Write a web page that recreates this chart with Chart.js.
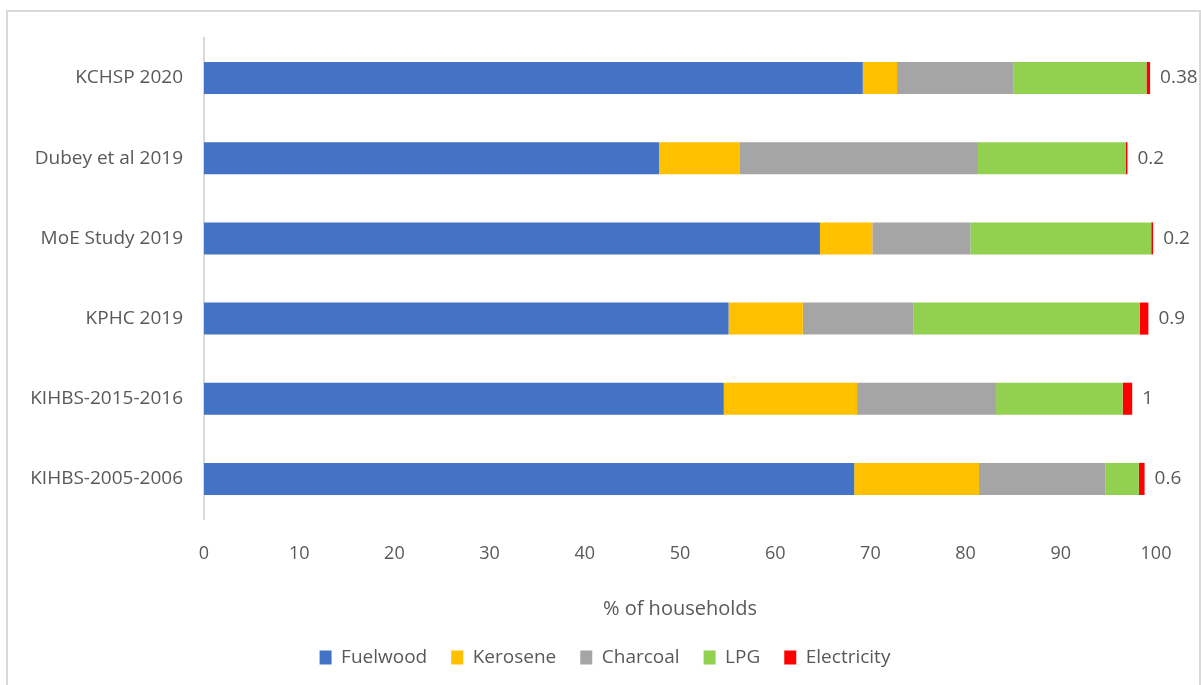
<!DOCTYPE html>
<html>
<head>
<meta charset="utf-8">
<script src="https://cdn.jsdelivr.net/npm/chart.js@4.4.1/dist/chart.umd.min.js"></script>
<style>
  html, body { margin: 0; padding: 0; background: #ffffff; }
  #wrap { width: 1201px; height: 685px; position: relative; }
</style>
</head>
<body>
<div id="wrap"><canvas id="c" width="1201" height="685"></canvas></div>
<script>
const categories = ["KCHSP 2020", "Dubey et al 2019", "MoE Study 2019", "KPHC 2019", "KIHBS-2015-2016", "KIHBS-2005-2006"];
const fuelwood    = [69.2, 47.8, 64.7, 55.1, 54.6, 68.3];
const kerosene    = [3.6, 8.5, 5.5, 7.8, 14.0, 13.1];
const charcoal    = [12.2, 25.0, 10.3, 11.6, 14.6, 13.3];
const lpg         = [14.0, 15.5, 19.0, 23.8, 13.3, 3.5];
const electricity = [0.38, 0.2, 0.2, 0.9, 1, 0.6];
const xTicks = [0, 10, 20, 30, 40, 50, 60, 70, 80, 90, 100];

const FONT = "'Open Sans', 'Noto Sans', sans-serif";
const TXT = '#595959';

const framePlugin = {
  id: 'frame',
  beforeDraw(chart) {
    const ctx = chart.ctx;
    ctx.save();
    ctx.fillStyle = '#ffffff';
    ctx.fillRect(0, 0, chart.width, chart.height);
    ctx.strokeStyle = '#d9d9d9';
    ctx.lineWidth = 2;
    ctx.strokeRect(7, 11, 1193, 700);
    ctx.restore();
  }
};

// shift the legend so it centres under the original layout
const legendShift = {
  id: 'legendShift',
  afterLayout(chart) {
    if (chart.legend) { chart.legend.left += 54; }
  }
};

const endLabels = {
  id: 'endLabels',
  afterDatasetsDraw(chart) {
    const idx = chart.data.datasets.length - 1;
    const meta = chart.getDatasetMeta(idx);
    const ds = chart.data.datasets[idx];
    const ctx = chart.ctx;
    ctx.save();
    ctx.font = "19px " + FONT;
    ctx.fillStyle = TXT;
    ctx.textAlign = 'left';
    ctx.textBaseline = 'middle';
    meta.data.forEach((el, i) => {
      ctx.fillText(String(ds.data[i]), el.x + 10, el.y);
    });
    ctx.restore();
  }
};

new Chart(document.getElementById('c'), {
  type: 'bar',
  data: {
    labels: categories,
    datasets: [
      { label: 'Fuelwood', data: fuelwood, backgroundColor: '#4472C4' },
      { label: 'Kerosene', data: kerosene, backgroundColor: '#FFC000' },
      { label: 'Charcoal', data: charcoal, backgroundColor: '#A5A5A5' },
      { label: 'LPG', data: lpg, backgroundColor: '#92D050' },
      { label: 'Electricity', data: electricity, backgroundColor: '#FF0000' }
    ]
  },
  options: {
    indexAxis: 'y',
    responsive: false,
    animation: false,
    datasets: { bar: { categoryPercentage: 1.0, barPercentage: 0.4, borderWidth: 0 } },
    layout: { padding: { left: 0, right: 45, top: 38, bottom: 8 } },
    scales: {
      x: {
        stacked: true,
        min: 0, max: 100,
        afterBuildTicks(scale) { scale.ticks = xTicks.map(v => ({ value: v })); },
        afterFit(scale) { scale.height = 105; },
        grid: { display: false, drawTicks: false },
        border: { display: false },
        ticks: { color: TXT, font: { family: FONT, size: 18 }, padding: 24, maxRotation: 0 },
        title: { display: true, text: '% of households', color: TXT, font: { family: FONT, size: 20 }, padding: { top: 0, bottom: 3 } }
      },
      y: {
        stacked: true,
        afterFit(scale) { scale.width = 204; },
        grid: { display: false, drawTicks: false },
        border: { display: true, color: '#d9d9d9', width: 2 },
        ticks: { color: TXT, font: { family: FONT, size: 19 }, padding: 21 }
      }
    },
    plugins: {
      legend: {
        position: 'bottom',
        labels: { color: TXT, font: { family: FONT, size: 19 }, boxWidth: 12, boxHeight: 14, padding: 24 }
      },
      tooltip: { enabled: false }
    }
  },
  plugins: [framePlugin, legendShift, endLabels]
});
</script>
</body>
</html>
